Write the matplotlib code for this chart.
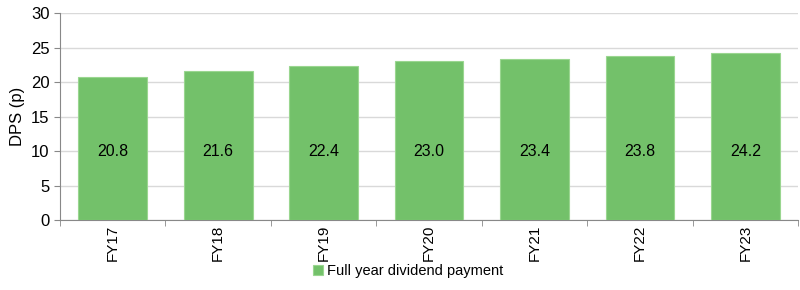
import numpy as np
import matplotlib.pyplot as plt
from matplotlib.ticker import FixedLocator

years = ["FY17", "FY18", "FY19", "FY20", "FY21", "FY22", "FY23"]
dps = [20.8, 21.6, 22.4, 23.0, 23.4, 23.8, 24.2]
series_name = "Full year dividend payment"

plt.rcParams['font.family'] = ['Liberation Sans Narrow', 'Liberation Sans', 'DejaVu Sans']
plt.rcParams['font.size'] = 11

fig = plt.figure(figsize=(8, 2.9), dpi=100)
ax = fig.add_axes([0.075, 0.241, 0.923, 0.714])

x = np.arange(len(years))
bars = ax.bar(x, dps, width=0.65, color='#73C16A', edgecolor='#9AD690',
              linewidth=0.8, label=series_name, zorder=3)
for xi, v in zip(x, dps):
    ax.text(xi, 10, f"{v:.1f}", ha='center', va='center', fontsize=11.5, zorder=4)

ax.set_xlim(-0.5, len(years) - 0.5)
ax.set_ylim(0, 30)
ax.set_yticks(range(0, 31, 5))
ax.set_xticks(x)
ax.set_xticklabels(years, rotation=90)
ax.xaxis.set_minor_locator(FixedLocator(np.arange(-0.5, len(years), 1.0)))
ax.tick_params(axis='x', which='major', length=0, pad=3, labelsize=11)
ax.tick_params(axis='x', which='minor', length=4, color='#888888')
ax.tick_params(axis='y', length=4, color='#888888', labelsize=12)
ax.set_ylabel("DPS (p)", fontsize=12)

ax.grid(axis='y', color='#D9D9D9', linewidth=1, zorder=0)
for s in ['top', 'right']:
    ax.spines[s].set_visible(False)
ax.spines['left'].set_color('#888888')
ax.spines['bottom'].set_color('#888888')

fig.legend(handles=[bars], labels=[series_name], loc='center', bbox_to_anchor=(0.51, 0.065),
           frameon=False, fontsize=10.5, handlelength=0.7, handleheight=0.7, handletextpad=0.3)

fig.savefig("out.png", dpi=100)
